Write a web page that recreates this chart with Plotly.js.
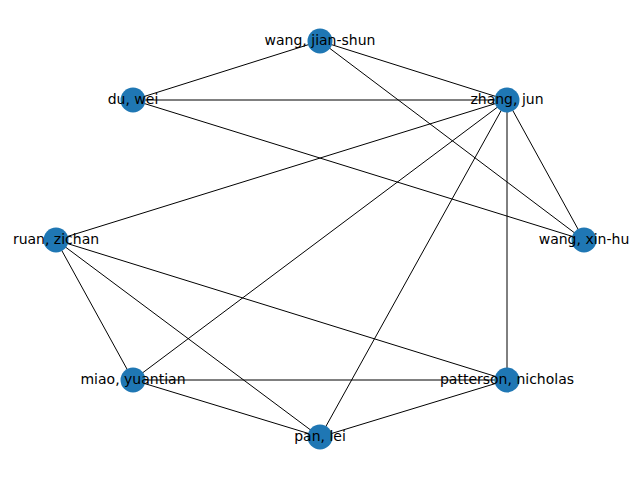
<!DOCTYPE html>
<html>
<head>
<script src="https://cdn.plot.ly/plotly-3.0.1.min.js"></script>
<style>body{margin:0}</style>
</head>
<body>
<div id="chart" style="width:640px;height:480px"></div>
<script>
const names = ['wang, jian-shun', 'du, wei', 'zhang, jun', 'ruan, zichan',
  'wang, xin-hu', 'miao, yuantian', 'patterson, nicholas', 'pan, lei'];
const nodeX = [320, 133, 507, 56, 584, 133, 507, 320];
const nodeY = [41, 100, 100, 240, 240, 380, 380, 437];

const edgeFrom = [0, 0, 0, 1, 1, 2, 2, 2, 2, 2, 3, 3, 3, 5, 5, 7];
const edgeTo   = [1, 2, 4, 2, 4, 3, 5, 7, 6, 4, 5, 7, 6, 6, 7, 6];

const ex = [], ey = [];
edgeFrom.forEach((a, i) => {
  const b = edgeTo[i];
  ex.push(nodeX[a], nodeX[b], null);
  ey.push(nodeY[a], nodeY[b], null);
});

const edges = {
  x: ex, y: ey, mode: 'lines', type: 'scatter',
  line: {color: '#000000', width: 1}, hoverinfo: 'none'
};

const nodes = {
  x: nodeX, y: nodeY, text: names, mode: 'markers+text', type: 'scatter',
  marker: {size: 25, color: '#1f77b4'},
  textposition: 'middle center',
  textfont: {family: 'DejaVu Sans', size: 14, color: '#000000'}
};

const layout = {
  width: 640, height: 480,
  margin: {l: 0, r: 0, t: 0, b: 0},
  showlegend: false,
  paper_bgcolor: '#ffffff', plot_bgcolor: '#ffffff',
  xaxis: {range: [0, 640], visible: false},
  yaxis: {range: [480, 0], visible: false}
};

Plotly.newPlot('chart', [edges, nodes], layout, {staticPlot: true});
</script>
</body>
</html>
